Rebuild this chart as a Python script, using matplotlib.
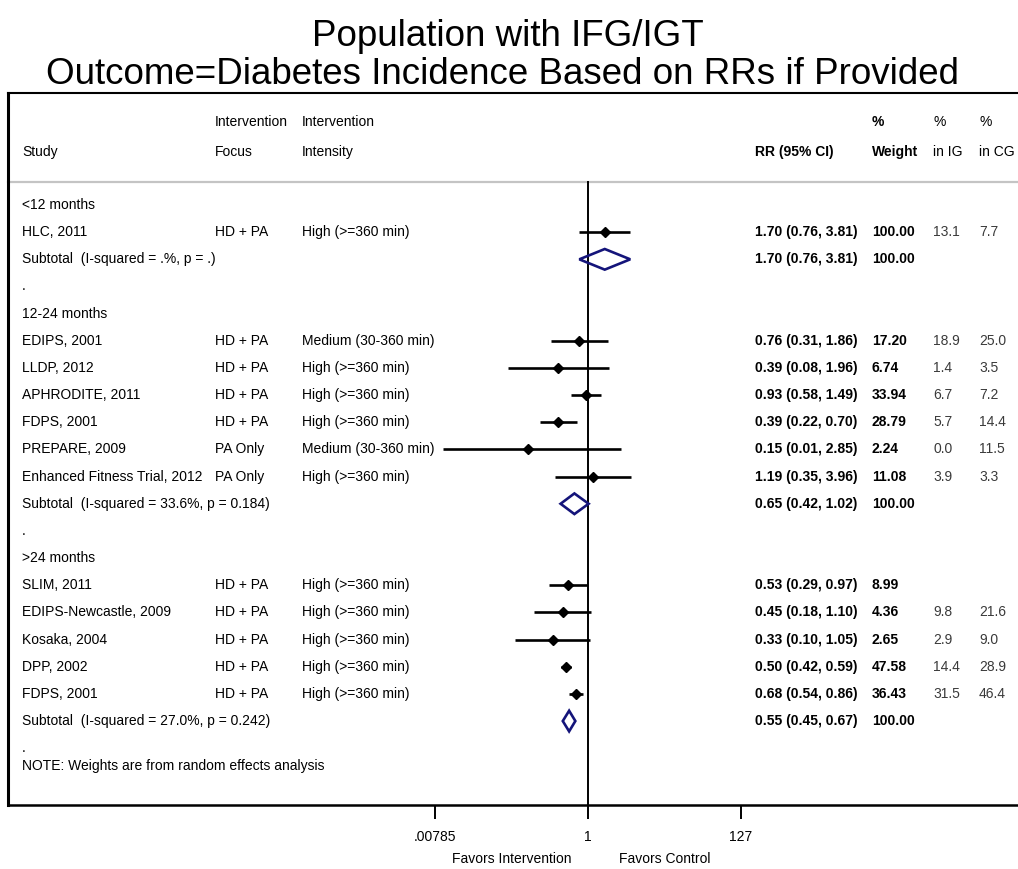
import numpy as np
import matplotlib
matplotlib.use('Agg')
import matplotlib.pyplot as plt
from matplotlib.transforms import blended_transform_factory

plt.rcParams['font.family'] = ['Liberation Sans', 'DejaVu Sans']

# --- study data -------------------------------------------------------------
groups = ['<12 months', '12-24 months', '>24 months']

study_names = ['HLC, 2011',
               'EDIPS, 2001', 'LLDP, 2012', 'APHRODITE, 2011', 'FDPS, 2001',
               'PREPARE, 2009', 'Enhanced Fitness Trial, 2012',
               'SLIM, 2011', 'EDIPS-Newcastle, 2009', 'Kosaka, 2004',
               'DPP, 2002', 'FDPS, 2001']
study_group = [0, 1, 1, 1, 1, 1, 1, 2, 2, 2, 2, 2]
focus = ['HD + PA', 'HD + PA', 'HD + PA', 'HD + PA', 'HD + PA', 'PA Only',
         'PA Only', 'HD + PA', 'HD + PA', 'HD + PA', 'HD + PA', 'HD + PA']
intensity = ['High (>=360 min)', 'Medium (30-360 min)', 'High (>=360 min)',
             'High (>=360 min)', 'High (>=360 min)', 'Medium (30-360 min)',
             'High (>=360 min)', 'High (>=360 min)', 'High (>=360 min)',
             'High (>=360 min)', 'High (>=360 min)', 'High (>=360 min)']
rr = [1.70, 0.76, 0.39, 0.93, 0.39, 0.15, 1.19, 0.53, 0.45, 0.33, 0.50, 0.68]
rr_lo = [0.76, 0.31, 0.08, 0.58, 0.22, 0.01, 0.35, 0.29, 0.18, 0.10, 0.42, 0.54]
rr_hi = [3.81, 1.86, 1.96, 1.49, 0.70, 2.85, 3.96, 0.97, 1.10, 1.05, 0.59, 0.86]
weight = [100.00, 17.20, 6.74, 33.94, 28.79, 2.24, 11.08,
          8.99, 4.36, 2.65, 47.58, 36.43]
pct_ig = ['13.1', '18.9', '1.4', '6.7', '5.7', '0.0', '3.9',
          '', '9.8', '2.9', '14.4', '31.5']
pct_cg = ['7.7', '25.0', '3.5', '7.2', '14.4', '11.5', '3.3',
          '', '21.6', '9.0', '28.9', '46.4']

sub_rr = [1.70, 0.65, 0.55]
sub_lo = [0.76, 0.42, 0.45]
sub_hi = [3.81, 1.02, 0.67]
sub_weight = [100.00, 100.00, 100.00]
sub_het = ['(I-squared = .%, p = .)',
           '(I-squared = 33.6%, p = 0.184)',
           '(I-squared = 27.0%, p = 0.242)']

tick_vals = [0.00785, 1, 127]
tick_labels = ['.00785', '1', '127']

# --- layout ----------------------------------------------------------------
W, H = 1018, 869
x_left, x_right = 8, 1018      # frame, pixels
y_top, y_bot = 93, 805
row0, pitch = 205, 27.16        # first row centre and row spacing, pixels
x_null, px_per_ln = 588, 31.58  # pixel of RR = 1 and scale of the log axis

navy = '#14147a'
fs = 10

fig = plt.figure(figsize=(W / 100, H / 100), dpi=100)
ax = fig.add_axes([x_left / W, 1 - y_bot / H,
                   (x_right - x_left) / W, (y_bot - y_top) / H])
ax.set_xscale('log')
ax.set_xlim(np.exp((x_left - x_null) / px_per_ln),
            np.exp((x_right - x_null) / px_per_ln))
ax.set_ylim((y_bot - row0) / pitch, (y_top - row0) / pitch)

trans = blended_transform_factory(ax.transAxes, ax.transData)


def fx(px):
    return (px - x_left) / (x_right - x_left)


def row_of(py):
    return (py - row0) / pitch


def put(px, row, s, **kw):
    ax.text(fx(px), row, s, transform=trans, va='center', ha='left',
            fontsize=fs, **kw)


col_study, col_focus, col_int = 22, 215, 302
col_rr, col_w, col_ig, col_cg = 755, 872, 933, 979

# column headers
h1, h2 = row_of(122), row_of(152)
put(col_focus, h1, 'Intervention')
put(col_int, h1, 'Intervention')
put(col_w, h1, '%', fontweight='bold')
put(col_ig, h1, '%')
put(col_cg, h1, '%')
put(col_study, h2, 'Study')
put(col_focus, h2, 'Focus')
put(col_int, h2, 'Intensity')
put(col_rr, h2, 'RR (95% CI)', fontweight='bold')
put(col_w, h2, 'Weight', fontweight='bold')
put(col_ig, h2, 'in IG')
put(col_cg, h2, 'in CG')

sep = row_of(182)
ax.plot([0, 1], [sep, sep], transform=trans, color='#c4c4c4', lw=1.6,
        clip_on=False, zorder=1)

# rows: group heading, studies, subtotal, spacer dot
row = 0
for g, gname in enumerate(groups):
    put(col_study, row, gname)
    row += 1
    for i in [k for k, sg in enumerate(study_group) if sg == g]:
        put(col_study, row, study_names[i])
        put(col_focus, row, focus[i])
        put(col_int, row, intensity[i])
        put(col_rr, row, '%.2f (%.2f, %.2f)' % (rr[i], rr_lo[i], rr_hi[i]),
            fontweight='bold')
        put(col_w, row, '%.2f' % weight[i], fontweight='bold')
        put(col_ig, row, pct_ig[i], color='#3a3a3a')
        put(col_cg, row, pct_cg[i], color='#3a3a3a')
        ax.plot([rr_lo[i], rr_hi[i]], [row, row], color='black', lw=1.9,
                solid_capstyle='butt', zorder=3)
        ax.plot(rr[i], row, marker='D', ms=5.2, color='black', zorder=4)
        row += 1
    put(col_study, row, 'Subtotal  ' + sub_het[g])
    put(col_rr, row, '%.2f (%.2f, %.2f)' % (sub_rr[g], sub_lo[g], sub_hi[g]),
        fontweight='bold')
    put(col_w, row, '%.2f' % sub_weight[g], fontweight='bold')
    hh = 0.38
    ax.fill([sub_lo[g], sub_rr[g], sub_hi[g], sub_rr[g]],
            [row, row - hh, row, row + hh],
            facecolor='none', edgecolor=navy, lw=1.9, joinstyle='miter',
            zorder=4)
    row += 1
    put(col_study, row, '.')
    row += 1

put(col_study, row_of(766), 'NOTE: Weights are from random effects analysis')

# line of no effect
ax.plot([1, 1], [sep, ax.get_ylim()[0]], color='black', lw=1.4, zorder=2)

# frame and axis
for side in ['right']:
    ax.spines[side].set_visible(False)
ax.spines['left'].set_linewidth(2.2)
ax.spines['top'].set_linewidth(1.5)
ax.spines['bottom'].set_linewidth(1.8)
ax.set_yticks([])
ax.set_xticks(tick_vals)
ax.set_xticklabels(tick_labels)
ax.xaxis.set_minor_locator(matplotlib.ticker.NullLocator())
ax.tick_params(axis='x', length=10, width=1.4, labelsize=fs, pad=8)

fig.text(fx(512) * (x_right - x_left) / W + x_left / W, 1 - 859 / H,
         'Favors Intervention', ha='center', va='center', fontsize=fs)
fig.text(665 / W, 1 - 859 / H, 'Favors Control', ha='center', va='center',
         fontsize=fs)

fig.text(508 / W, 1 - 36 / H, 'Population with IFG/IGT', ha='center',
         va='center', fontsize=26.5)
fig.text(502 / W, 1 - 74 / H,
         'Outcome=Diabetes Incidence Based on RRs if Provided',
         ha='center', va='center', fontsize=26.5)

fig.savefig('out.png', dpi=100)
